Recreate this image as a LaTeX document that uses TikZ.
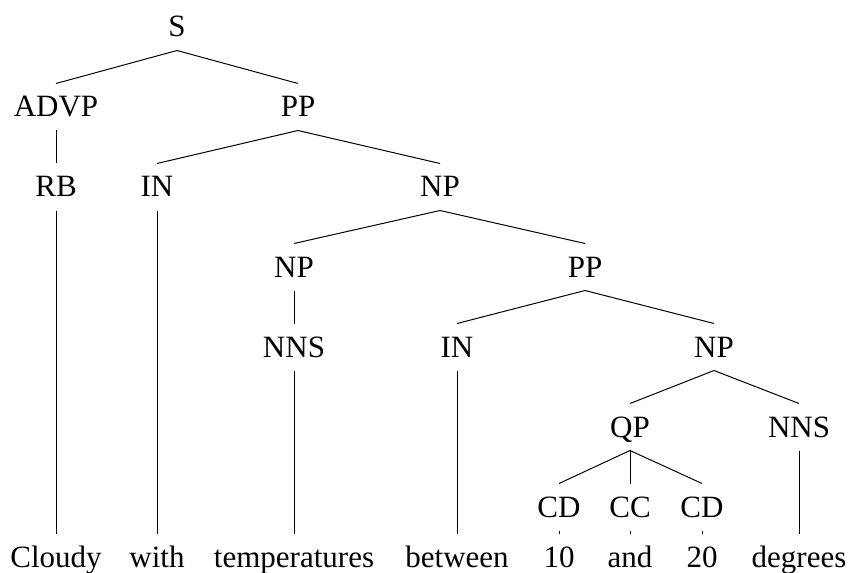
\documentclass[tikz,border=0pt]{standalone}
\usepackage{fontspec}
\setmainfont{Liberation Serif}
\begin{document}
\begin{tikzpicture}[x=0.5pt, y=-0.5pt, line width=0.5pt,
    tag/.style={draw=none, anchor=base, inner xsep=2pt, inner ysep=6.5pt,
      text height=10pt, text depth=0pt, font=\fontsize{15.5}{18}\selectfont}]
    \useasboundingbox (0,0) rectangle (849,572);

    % Nós das categorias
    \node[tag] (s) at (177,37) {S};
    \node[tag] (advp) at (56,117) {ADVP};
    \node[tag] (pp1) at (298,117) {PP};
    \node[tag] (rb) at (56,197) {RB};
    \node[tag] (in1) at (157,197) {IN};
    \node[tag] (np1) at (440,197) {NP};
    \node[tag] (np2) at (294,277) {NP};
    \node[tag] (pp2) at (585,277) {PP};
    \node[tag] (nns1) at (294,357) {NNS};
    \node[tag] (in2) at (457,357) {IN};
    \node[tag] (np3) at (714,357) {NP};
    \node[tag] (qp) at (630,437) {QP};
    \node[tag] (nns2) at (799,437) {NNS};
    \node[tag] (cd1) at (559,517) {CD};
    \node[tag] (cc) at (630,517) {CC};
    \node[tag] (cd2) at (702,517) {CD};

    % Nós das palavras
    \node[tag] (w1) at (56,567) {Cloudy};
    \node[tag] (w2) at (157,567) {with};
    \node[tag] (w3) at (294,567) {temperatures};
    \node[tag] (w4) at (457,567) {between};
    \node[tag] (w5) at (559,567) {10};
    \node[tag] (w6) at (630,567) {and};
    \node[tag] (w7) at (702,567) {20};
    \node[tag] (w8) at (799,567) {degrees};

    % Arestas
    \draw (s.south) -- (advp.north);
    \draw (s.south) -- (pp1.north);
    \draw (advp.south) -- (rb.north);
    \draw (pp1.south) -- (in1.north);
    \draw (pp1.south) -- (np1.north);
    \draw (np1.south) -- (np2.north);
    \draw (np1.south) -- (pp2.north);
    \draw (np2.south) -- (nns1.north);
    \draw (pp2.south) -- (in2.north);
    \draw (pp2.south) -- (np3.north);
    \draw (np3.south) -- (qp.north);
    \draw (np3.south) -- (nns2.north);
    \draw (qp.south) -- (cd1.north);
    \draw (qp.south) -- (cc.north);
    \draw (qp.south) -- (cd2.north);

    % Arestas até as palavras
    \draw (rb.south) -- (w1.north);
    \draw (in1.south) -- (w2.north);
    \draw (nns1.south) -- (w3.north);
    \draw (in2.south) -- (w4.north);
    \draw (cd1.south) -- (w5.north);
    \draw (cc.south) -- (w6.north);
    \draw (cd2.south) -- (w7.north);
    \draw (nns2.south) -- (w8.north);
  \end{tikzpicture}
\end{document}
